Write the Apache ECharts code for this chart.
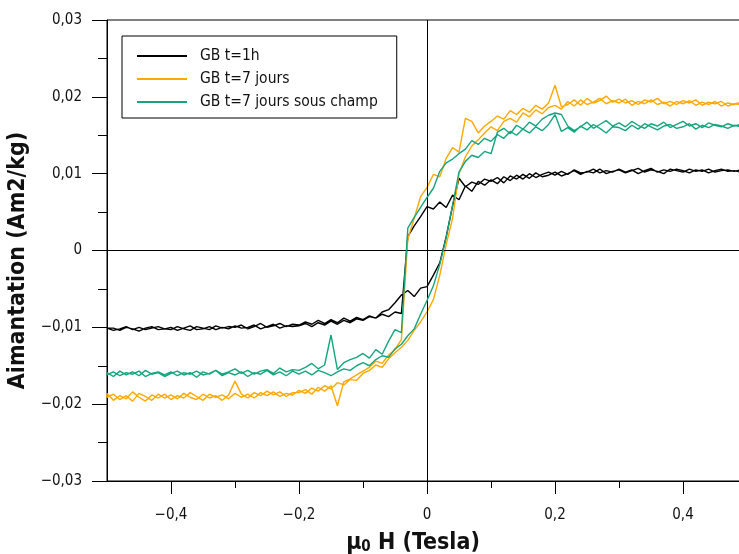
<!DOCTYPE html>
<html><head><meta charset="utf-8">
<script src="https://cdn.jsdelivr.net/npm/echarts@6/dist/echarts.min.js"></script>
<style>html,body{margin:0;padding:0;overflow:hidden;background:#fff}#c{width:760px;height:554px}</style>
</head><body><div id="c"></div><script>
// Field mu0 H (Tesla), one value per measured step
const H = [-0.50,-0.49,-0.48,-0.47,-0.46,-0.45,-0.44,-0.43,-0.42,-0.41,
-0.40,-0.39,-0.38,-0.37,-0.36,-0.35,-0.34,-0.33,-0.32,-0.31,
-0.30,-0.29,-0.28,-0.27,-0.26,-0.25,-0.24,-0.23,-0.22,-0.21,
-0.20,-0.19,-0.18,-0.17,-0.16,-0.15,-0.14,-0.13,-0.12,-0.11,
-0.10,-0.09,-0.08,-0.07,-0.06,-0.05,-0.04,-0.03,-0.02,-0.01,
0.00,0.01,0.02,0.03,0.04,0.05,0.06,0.07,0.08,0.09,
0.10,0.11,0.12,0.13,0.14,0.15,0.16,0.17,0.18,0.19,
0.20,0.21,0.22,0.23,0.24,0.25,0.26,0.27,0.28,0.29,
0.30,0.31,0.32,0.33,0.34,0.35,0.36,0.37,0.38,0.39,
0.40,0.41,0.42,0.43,0.44,0.45,0.46,0.47,0.48,0.49];

// Magnetisation in 1e-3 Am2/kg; DN = branch swept from +H to -H, UP = from -H to +H (both listed in increasing H)
const BK_DN = [-10.1,-10.4,-10.2,-9.9,-10.3,-10.0,-10.3,-10.1,-9.9,-10.2,
-10.3,-9.9,-10.2,-10.4,-9.9,-10.1,-10.3,-9.8,-10.1,-9.9,
-10.0,-9.7,-10.2,-9.9,-9.5,-10.0,-9.8,-9.5,-9.9,-9.6,
-9.7,-9.3,-9.6,-9.1,-9.5,-9.0,-9.4,-8.8,-9.2,-8.7,
-9.0,-8.5,-8.8,-8.3,-8.6,-8.0,-8.2,1.8,3.2,4.4,
5.7,5.4,6.3,5.6,7.2,6.6,8.4,7.7,9.0,8.5,
9.2,8.7,9.6,9.1,9.8,9.3,10.0,9.5,9.9,10.2,
9.8,10.3,9.9,10.5,10.1,10.2,10.6,10.1,10.4,10.2,
10.6,10.2,10.5,10.0,10.4,10.7,10.2,10.5,10.3,10.6,
10.4,10.1,10.5,10.3,10.6,10.2,10.4,10.5,10.3,10.5];
const BK_UP = [-10.3,-10.1,-10.4,-10.0,-10.2,-10.5,-10.1,-9.9,-10.3,-10.2,
-10.0,-10.4,-10.1,-9.8,-10.3,-10.2,-9.9,-10.3,-10.0,-10.2,
-9.8,-10.1,-10.0,-9.7,-10.2,-9.9,-9.6,-10.1,-9.8,-9.9,
-9.8,-9.5,-9.9,-9.4,-9.7,-9.2,-9.6,-9.1,-9.4,-8.9,
-9.1,-8.6,-8.8,-8.0,-7.7,-6.8,-5.8,-5.2,-6.0,-4.9,
-4.7,-3.2,-1.6,1.8,5.8,9.4,8.3,8.9,8.6,9.3,
9.0,9.5,8.8,9.7,9.3,9.9,9.4,10.1,9.6,9.8,
10.2,9.7,10.0,10.4,9.9,10.3,10.1,10.6,10.0,10.3,
10.5,10.1,10.4,10.7,10.2,10.5,10.3,10.0,10.6,10.4,
10.2,10.6,10.3,10.5,10.1,10.4,10.6,10.3,10.4,10.2];

const OR_DN = [-19.1,-18.7,-19.4,-18.9,-19.6,-18.6,-19.0,-19.5,-18.7,-19.2,
-18.8,-19.3,-18.6,-19.1,-19.4,-18.7,-19.2,-18.9,-19.5,-18.8,
-17.0,-18.7,-19.2,-18.5,-18.9,-18.3,-18.8,-18.4,-19.0,-18.5,
-18.5,-18.1,-18.7,-17.8,-18.3,-17.6,-20.2,-17.1,-16.7,-16.2,
-15.7,-15.2,-14.4,-14.7,-13.6,-12.9,-11.6,1.5,4.2,7.0,
8.2,9.9,9.6,12.0,13.4,12.8,17.2,16.8,15.3,16.2,
16.8,17.5,17.1,18.2,17.7,18.5,18.0,18.9,18.4,19.2,
21.5,18.7,19.0,19.6,18.9,19.8,19.2,19.5,20.1,19.3,
19.7,19.2,19.5,19.0,19.6,19.3,19.8,19.1,19.4,19.0,
19.5,19.2,19.6,18.9,19.3,19.1,19.4,18.8,19.1,19.0];
const OR_UP = [-18.6,-19.5,-18.9,-19.3,-18.4,-19.1,-19.6,-18.8,-19.2,-18.7,
-19.4,-18.9,-19.2,-18.5,-19.0,-19.5,-18.7,-19.1,-18.8,-19.3,
-18.6,-19.1,-18.7,-19.2,-18.5,-18.9,-18.4,-19.0,-18.6,-18.8,
-18.2,-18.6,-17.9,-18.3,-17.6,-18.0,-17.2,-17.5,-16.8,-16.9,
-16.0,-15.6,-14.9,-15.2,-14.1,-13.3,-12.6,-11.7,-10.4,-9.3,
-8.0,-6.4,-3.2,0.8,4.2,10.0,12.2,13.6,14.4,15.3,
16.1,15.6,16.8,17.2,16.7,17.9,17.4,18.3,17.8,18.6,
18.9,18.4,19.4,18.8,19.6,19.0,19.3,19.8,19.1,19.5,
19.2,19.7,18.9,19.4,19.1,19.6,19.0,19.3,18.8,19.4,
19.1,19.5,18.9,19.3,19.0,19.4,18.8,19.2,19.0,19.3];

const GR_DN = [-16.2,-15.8,-16.3,-15.9,-16.1,-15.7,-16.4,-16.0,-15.8,-16.2,
-15.8,-16.3,-15.9,-16.1,-15.7,-16.2,-16.0,-15.6,-16.1,-15.8,
-15.4,-16.0,-15.6,-16.1,-15.7,-15.5,-16.0,-15.3,-15.8,-15.5,
-15.6,-15.2,-14.7,-15.4,-14.9,-11.0,-15.5,-14.6,-14.2,-13.9,
-13.4,-14.0,-12.9,-13.5,-11.8,-10.3,-10.7,2.9,4.3,5.6,
6.9,8.1,10.3,11.4,11.9,12.6,13.2,14.3,13.8,14.6,
14.2,15.1,14.6,15.5,15.0,15.8,15.3,16.1,15.6,16.4,
17.7,15.5,16.0,15.4,16.2,15.7,16.4,15.9,15.3,16.1,
16.0,15.6,16.3,15.8,16.5,16.1,15.7,16.2,16.4,15.9,
16.1,16.5,15.8,16.3,16.0,16.4,16.2,15.9,16.3,16.1];
const GR_UP = [-15.9,-16.4,-15.7,-16.2,-15.8,-16.3,-15.6,-16.1,-15.9,-16.4,
-16.0,-15.7,-16.2,-15.9,-16.5,-15.8,-16.1,-15.6,-16.3,-15.9,
-16.2,-15.8,-16.4,-15.9,-16.1,-15.6,-16.2,-15.8,-16.3,-15.7,
-16.1,-15.7,-16.2,-15.6,-15.9,-16.3,-15.8,-15.4,-15.6,-15.0,
-14.6,-15.0,-14.2,-13.7,-13.9,-12.8,-12.2,-11.1,-10.2,-8.3,
-6.5,-4.6,-1.8,1.7,5.9,10.2,11.6,12.4,12.1,12.9,
12.6,15.4,15.9,15.2,16.3,15.8,16.7,16.2,17.1,17.6,
17.9,17.7,16.2,15.6,16.1,16.7,15.9,16.4,16.9,16.2,
16.6,16.1,16.8,16.3,15.9,16.5,16.2,16.7,16.0,16.4,
16.8,16.2,16.5,16.0,16.6,16.3,16.1,16.5,16.2,16.4];

const SERIES_NAMES = ['GB t=1h', 'GB t=7 jours', 'GB t=7 jours sous champ'];
const X_MAJOR_TICKS = [-0.4, -0.2, 0, 0.2, 0.4];
const X_MINOR_TICKS = [-0.3, -0.1, 0.1, 0.3];

const FONT = 'Tahoma, "DejaVu Sans Condensed", "DejaVu Sans", sans-serif';
const COLORS = ['#000000', '#FFA800', '#14A57E'];
const Y_MIN = -30, Y_MAX = 30;

function loop(dn, up) {
  const a = H.map((h, i) => [h, dn[i]]).reverse();
  return a.concat(H.map((h, i) => [h, up[i]]));
}
function fmtNum(v, d) {
  if (Math.abs(v) < 1e-9) return '0';
  return (v < 0 ? '\u2212' : '') + Math.abs(v).toFixed(d).replace('.', ',');
}
function tickSeries(ticks, len) {
  return {
    type: 'custom', coordinateSystem: 'cartesian2d', silent: true, clip: false, z: 5,
    data: ticks.map(v => [v, Y_MIN]),
    renderItem: function (params, api) {
      const p = api.coord([api.value(0), Y_MIN]);
      return { type: 'line', shape: { x1: Math.round(p[0]) + 0.5, y1: p[1], x2: Math.round(p[0]) + 0.5, y2: p[1] + len },
               style: { stroke: '#000', lineWidth: 1 } };
    }
  };
}

const chart = echarts.init(document.getElementById('c'), null, { renderer: 'canvas' });
const lineData = [loop(BK_DN, BK_UP), loop(OR_DN, OR_UP), loop(GR_DN, GR_UP)];

const option = {
  animation: false,
  textStyle: { fontFamily: FONT },
  grid: { left: 107, top: 20, width: 640, height: 461, show: true, borderColor: '#000', borderWidth: 1,
          containLabel: false, outerBoundsMode: 'none' },
  legend: {
    data: SERIES_NAMES, orient: 'vertical', left: 122, top: 36,
    icon: 'rect', itemWidth: 50, itemHeight: 2, itemGap: 7,
    padding: [12, 19, 8, 15],
    borderColor: '#000', borderWidth: 1, backgroundColor: '#fff',
    textStyle: { fontFamily: FONT, fontSize: 15.5, color: '#111', lineHeight: 16, padding: [0, 0, 0, 8] }
  },
  xAxis: {
    type: 'value', min: -0.5, max: 0.5, interval: 0.1,
    axisLine: { onZero: false, lineStyle: { color: '#000', width: 1 } },
    axisTick: { show: false }, splitLine: { show: false },
    axisLabel: {
      margin: 27, fontSize: 15, color: '#111', fontFamily: FONT,
      formatter: v => { const k = Math.round(v * 10); return (k % 2 === 0 && Math.abs(k) <= 4) ? fmtNum(v, 1) : ''; }
    },
    name: '{a|\u03bc}{s|0}{a| H (Tesla)}', nameLocation: 'middle', nameGap: 50,
    nameTextStyle: { padding: [0, 28, 0, 0], rich: {
      a: { fontFamily: FONT, fontSize: 23, fontWeight: 'bold', color: '#111' },
      s: { fontFamily: FONT, fontSize: 15, fontWeight: 'bold', color: '#111', padding: [9, 0, 0, 0] }
    } }
  },
  yAxis: {
    type: 'value', min: Y_MIN, max: Y_MAX, interval: 10,
    axisLine: { onZero: false, lineStyle: { color: '#000', width: 1 } },
    axisTick: { length: 15, lineStyle: { color: '#000' } },
    minorTick: { show: true, splitNumber: 2, length: 9, lineStyle: { color: '#000' } },
    splitLine: { show: false }, minorSplitLine: { show: false },
    axisLabel: { margin: 25, fontSize: 15, color: '#111', fontFamily: FONT, formatter: v => fmtNum(v / 1000, 2) },
    name: 'Aimantation (Am2/kg)', nameLocation: 'middle', nameGap: 70, nameRotate: 90,
    nameTextStyle: { fontFamily: FONT, fontSize: 23, fontWeight: 'bold', color: '#111', padding: [0, 20, 0, 0] }
  },
  series: [
    ...lineData.map((d, i) => ({
      name: SERIES_NAMES[i], type: 'line', data: d, symbol: 'none', z: 3 + i,
      lineStyle: { color: COLORS[i], width: 1.4 }, itemStyle: { color: COLORS[i] },
      markLine: i === 0 ? {
        silent: true, symbol: ['none', 'none'], label: { show: false },
        lineStyle: { color: '#000', type: 'solid', width: 1 },
        data: [{ xAxis: 0 }, { yAxis: 0 }]
      } : undefined
    })),
    tickSeries(X_MAJOR_TICKS, 13),
    tickSeries(X_MINOR_TICKS, 7)
  ]
};
chart.setOption(option);
</script></body></html>
